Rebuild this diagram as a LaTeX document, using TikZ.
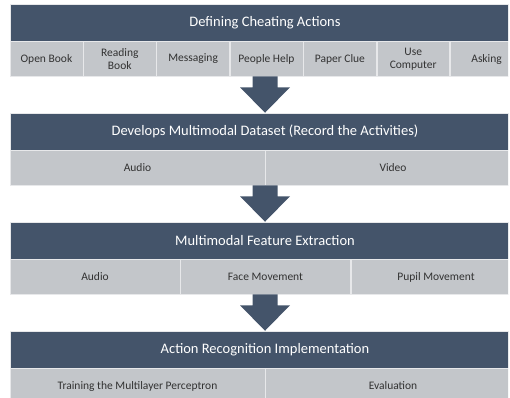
\documentclass[tikz,border=0pt]{standalone}
\usepackage{fontspec}
\setmainfont{Carlito}
\usepackage{tikz}
\usetikzlibrary{positioning, calc}
\definecolor{slateblue}{RGB}{68, 84, 106}
\definecolor{cellgray}{RGB}{195, 198, 202}
\definecolor{celltext}{RGB}{50, 50, 50}

\begin{document}
\begin{tikzpicture}[
  hdr/.style = {
    fill=slateblue, draw=cellgray!40, line width=0.5pt,
    minimum width=510pt, minimum height=37pt,
    inner sep=0pt, text=white, font=\fontsize{14.5}{16}\selectfont
  },
  cell/.style = {
    fill=cellgray, draw=cellgray!40, line width=0.5pt,
    minimum height=35pt, inner sep=0pt,
    align=center, text=celltext, font=\fontsize{11.5}{12.5}\selectfont
  },
  c7/.style  = { cell, minimum width=510pt/7 },
  c2/.style  = { cell, minimum width=255pt },
  c3/.style  = { cell, minimum width=170pt },
  blk/.style = { fill=slateblue }
]
\useasboundingbox (0,0) rectangle (510pt,-397pt);
\clip (0,0) rectangle (508pt,-397pt);

% stage 1
\node[hdr] (H1) at (265pt,-22.5pt) {Defining Cheating Actions};
\node[c7, anchor=north west] (OB) at (H1.south west) {Open Book};
\node[c7, right=0pt of OB] (RB) {Reading\\Book};
\node[c7, right=0pt of RB] (MS) {Messaging};
\node[c7, right=0pt of MS] (PH) {People Help};
\node[c7, right=0pt of PH] (PC) {Paper Clue};
\node[c7, right=0pt of PC] (UC) {Use\\Computer};
\node[c7, right=0pt of UC] (AS) {Asking};

% stage 2
\node[hdr] (H2) at (265pt,-131.5pt) {Develops Multimodal Dataset (Record the Activities)};
\node[c2, anchor=north west] (DA) at (H2.south west) {Audio};
\node[c2, right=0pt of DA] (DV) {Video};

% stage 3
\node[hdr] (H3) at (265pt,-240.5pt) {Multimodal Feature Extraction};
\node[c3, anchor=north west] (FA) at (H3.south west) {Audio};
\node[c3, right=0pt of FA] (FM) {Face Movement};
\node[c3, right=0pt of FM] (PM) {Pupil Movement};

% stage 4
\node[hdr] (H4) at (265pt,-349.5pt) {Action Recognition Implementation};
\node[c2, anchor=north west] (TM) at (H4.south west) {Training the Multilayer Perceptron};
\node[c2, right=0pt of TM] (EV) {Evaluation};

% block arrows between stages
\foreach \a/\b in {H1/H2, H2/H3, H3/H4} {
  \fill[blk] ([xshift=-12.5pt, yshift=-35pt]\a.south)
    -- ([xshift=-12.5pt, yshift=-46pt]\a.south)
    -- ([xshift=-25pt, yshift=-46pt]\a.south)
    -- (\b.north)
    -- ([xshift=25pt, yshift=-46pt]\a.south)
    -- ([xshift=12.5pt, yshift=-46pt]\a.south)
    -- ([xshift=12.5pt, yshift=-35pt]\a.south) -- cycle;
}

\end{tikzpicture}
\end{document}
